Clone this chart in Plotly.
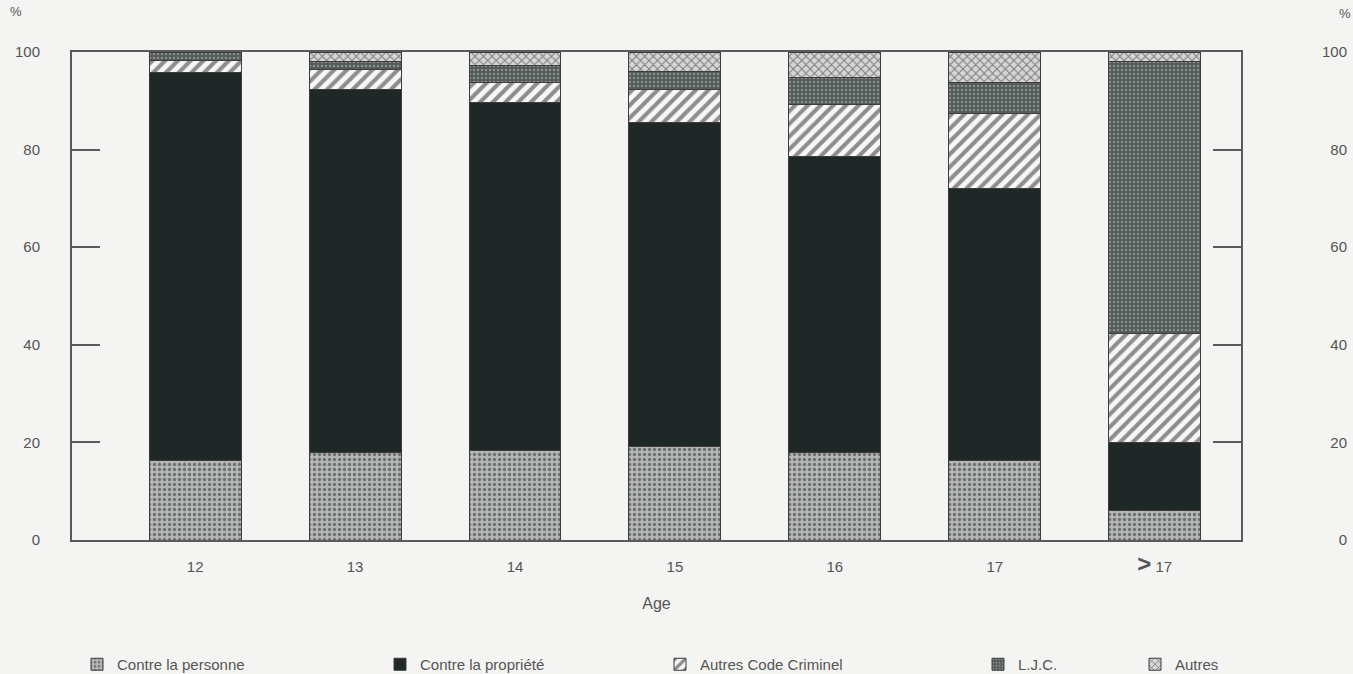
import plotly.graph_objects as go

# ---- data ----
ages = ["12", "13", "14", "15", "16", "17", ">17"]
age_labels = ["12", "13", "14", "15", "16", "17",
              "<span style='font-size:24px'><b>&gt;</b></span> 17"]

contre_personne = [16.3, 18.0, 18.4, 19.1, 18.0, 16.3, 6.1]
contre_propriete = [79.4, 74.3, 71.2, 66.4, 60.6, 55.8, 13.8]
autres_code_criminel = [2.6, 4.2, 4.1, 6.8, 10.6, 15.4, 22.4]
ljc = [1.5, 1.5, 3.6, 3.8, 5.5, 6.2, 55.8]
autres = [0.2, 2.0, 2.7, 3.9, 5.3, 6.3, 1.9]

series_names = ["Contre la personne", "Contre la propriété",
                "Autres Code Criminel", "L.J.C.", "Autres"]

y_ticks = [0, 20, 40, 60, 80, 100]

# ---- styling ----
BG = "#f4f4f2"
AX = "#5a5a5a"
TXT = "#555555"
FONT = "Liberation Sans, Arial, sans-serif"

styles = [
    dict(bgcolor="#b4b7b5", fgcolor="#6c706e", shape=".", size=5, solidity=0.35),
    dict(bgcolor="#1f2727", fgcolor="#1f2727", shape="", size=8, solidity=0.2),
    dict(bgcolor="#f7f7f7", fgcolor="#8d8d8d", shape="/", size=9, solidity=0.45),
    dict(bgcolor="#535a58", fgcolor="#8a908e", shape=".", size=4, solidity=0.3),
    dict(bgcolor="#d6d6d6", fgcolor="#7a7a7a", shape="x", size=6, solidity=0.3),
]

values = [contre_personne, contre_propriete, autres_code_criminel, ljc, autres]

W, H = 1353, 674
plot_left, plot_right, plot_top, plot_bottom = 72, 1241, 52, 540
plot_w, plot_h = plot_right - plot_left, plot_bottom - plot_top
text_starts = [117, 420, 700, 1018, 1175]
legend_ids = ["legend", "legend2", "legend3", "legend4", "legend5"]

fig = go.Figure()
for name, vals, st, lid in zip(series_names, values, styles, legend_ids):
    pat = dict(shape=st["shape"], bgcolor=st["bgcolor"], fgcolor=st["fgcolor"],
               size=st["size"], solidity=st["solidity"], fillmode="replace")
    fig.add_trace(go.Bar(
        x=ages, y=vals, name=name, width=0.575,
        marker=dict(color=st["bgcolor"], pattern=pat,
                    line=dict(color="#3c3c3c", width=1)),
        legend=lid,
    ))

# invisible trace to activate the right-hand axis
fig.add_trace(go.Scatter(x=[], y=[], yaxis="y2", showlegend=False, hoverinfo="skip"))

layout_legends = {}
for lid, ts in zip(legend_ids, text_starts):
    layout_legends[lid] = dict(
        xref="container", x=(ts - 40) / W, xanchor="left",
        yref="container", y=1 - 648 / H, yanchor="top",
        orientation="h", bgcolor="rgba(0,0,0,0)",
        font=dict(family=FONT, size=15, color=TXT),
        itemclick=False, itemdoubleclick=False,
    )

fig.update_layout(
    width=W, height=H,
    margin=dict(l=plot_left, r=W - plot_right, t=plot_top, b=H - plot_bottom,
                autoexpand=False),
    paper_bgcolor=BG, plot_bgcolor=BG,
    barmode="stack", bargap=0.3,
    font=dict(family=FONT, size=14, color=TXT),
    showlegend=True,
    **layout_legends,
    xaxis=dict(
        type="category", categoryorder="array", categoryarray=ages,
        tickvals=ages, ticktext=age_labels,
        range=[-0.77, 6.54],
        showline=True, linecolor=AX, linewidth=2, mirror=True,
        showgrid=False, zeroline=False, ticks="",
        ticklabelstandoff=12, automargin=False,
        tickfont=dict(size=15, color=TXT),
        title=dict(text="Age", standoff=22, font=dict(size=16, color=TXT)),
    ),
    yaxis=dict(
        range=[0, 100], tickvals=y_ticks, ticktext=[str(v) for v in y_ticks],
        showline=True, linecolor=AX, linewidth=2, mirror="ticks",
        ticks="inside", ticklen=28, tickwidth=2, tickcolor=AX,
        showgrid=False, zeroline=False, automargin=False,
        ticklabelstandoff=27,
        tickfont=dict(size=15, color=TXT),
    ),
    yaxis2=dict(
        overlaying="y", side="right", range=[0, 100],
        tickvals=y_ticks,
        ticktext=["\u2007\u20070", "\u200720", "\u200740", "\u200760", "\u200780", "100"],
        showline=False, ticks="", showgrid=False, zeroline=False, automargin=False,
        ticklabelstandoff=80,
        tickfont=dict(size=15, color=TXT),
    ),
    annotations=[
        dict(text="%", xref="paper", yref="paper",
             x=(8 - plot_left) / plot_w, y=(plot_bottom - 2) / plot_h,
             showarrow=False, font=dict(size=13, color=TXT),
             xanchor="left", yanchor="top"),
        dict(text="%", xref="paper", yref="paper",
             x=(1337 - plot_left) / plot_w, y=(plot_bottom - 4) / plot_h,
             showarrow=False, font=dict(size=13, color=TXT),
             xanchor="left", yanchor="top"),
    ],
)

fig.write_html(
    "out.html",
    config={"displayModeBar": False},
    post_script="document.body.style.margin='0';document.body.style.background='%s';" % BG,
)
